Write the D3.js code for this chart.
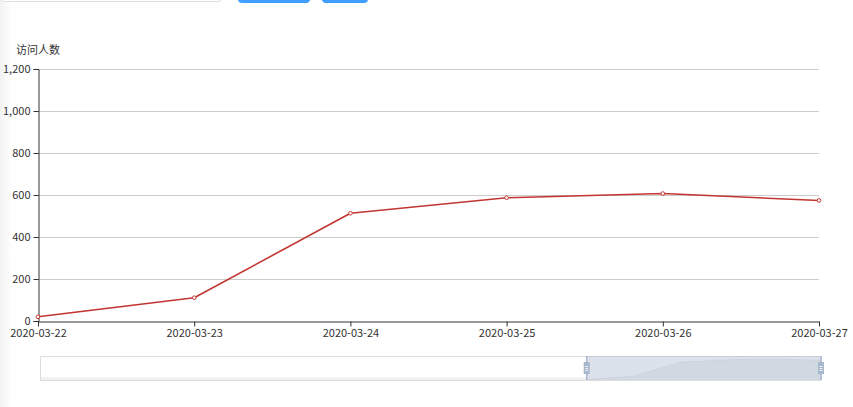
<!DOCTYPE html>
<html><head><meta charset="utf-8">
<script src="https://cdn.jsdelivr.net/npm/d3@7/dist/d3.min.js"></script>
<style>
html,body{margin:0;padding:0;background:#fff;overflow:hidden;}
#wrap{position:relative;width:853px;height:407px;}
.shadowL{position:absolute;left:0;top:0;width:12px;height:407px;background:linear-gradient(to right,rgba(0,0,0,0.05),rgba(0,0,0,0));}
.inp{position:absolute;left:0;top:-30px;width:222px;height:32px;border:1px solid #dcdfe6;border-radius:4px;box-sizing:border-box;background:#fff;}
.btn{position:absolute;top:-30px;height:33px;background:#409eff;border-radius:4px;}
svg{position:absolute;left:0;top:0;}
</style></head>
<body><div id="wrap">
<div class="shadowL"></div>
<div class="inp"></div>
<div class="btn" style="left:238px;width:72px"></div>
<div class="btn" style="left:322px;width:46px"></div>
<svg id="chart" width="853" height="407"></svg>
</div>
<script>
const categories = ["2020-03-22","2020-03-23","2020-03-24","2020-03-25","2020-03-26","2020-03-27"];
const visitors = [20, 111, 513, 587, 607, 574];
const yTicks = [0, 200, 400, 600, 800, 1000, 1200];
const yName = "访问人数";
const zoomStart = 0.70, zoomEnd = 1.0;

const font = "'Noto Sans CJK SC','Microsoft YaHei',sans-serif";
const svg = d3.select("#chart");
const L = 38, R = 819, T = 69, B = 321;

const x = d3.scalePoint().domain(categories).range([L, R]);
const y = d3.scaleLinear().domain([0, 1200]).range([B, T]);

// split lines
svg.append("g").selectAll("line").data(yTicks.filter(d => d > 0)).join("line")
  .attr("x1", L).attr("x2", R).attr("y1", d => y(d)+0.5).attr("y2", d => y(d)+0.5)
  .attr("stroke", "#ccc").attr("stroke-width", 1);

// y axis
const yAxis = svg.append("g").attr("transform", `translate(${L+0.5},0)`)
  .call(d3.axisLeft(y).tickValues(yTicks).tickSize(5).tickPadding(3).tickFormat(d3.format(",")));
yAxis.select(".domain").attr("stroke", "#333");
yAxis.selectAll(".tick line").attr("stroke", "#333");
yAxis.selectAll("text").attr("fill", "#333").style("font-family", font).style("font-size", "11px");

// x axis
const xAxis = svg.append("g").attr("transform", `translate(0,${B+0.5})`)
  .call(d3.axisBottom(x).tickSize(5).tickPadding(3).tickSizeOuter(0));
xAxis.select(".domain").attr("stroke", "#333");
xAxis.selectAll(".tick line").attr("stroke", "#333");
xAxis.selectAll("text").attr("fill", "#333").style("font-family", font).style("font-size", "11px");

// y axis name
svg.append("text").attr("x", L).attr("y", 54).attr("text-anchor", "middle")
  .attr("fill", "#333").style("font-family", font).style("font-size", "11px").text(yName);

// line
const line = d3.line().x((d, i) => x(categories[i])).y(d => y(d));
svg.append("path").datum(visitors).attr("d", line)
  .attr("fill", "none").attr("stroke", "#c23531").attr("stroke-width", 1.6).attr("stroke-linejoin", "bevel");
svg.append("g").selectAll("circle").data(visitors).join("circle")
  .attr("cx", (d, i) => x(categories[i])).attr("cy", d => y(d)).attr("r", 1.8)
  .attr("fill", "#fff").attr("stroke", "#c23531").attr("stroke-width", 1);

// data zoom slider
const sL = 40, sR = 821, sT = 356, sB = 380;
const sx = d3.scaleLinear().domain([0, 1]).range([sL, sR]);
const g = svg.append("g");
g.append("rect").attr("x", sL+0.5).attr("y", sT+0.5).attr("width", sR-sL).attr("height", sB-sT)
  .attr("fill", "#fff").attr("stroke", "#ddd");
const selL = sx(zoomStart), selR = sx(zoomEnd);
const vy = d3.scaleLinear().domain([0, d3.max(visitors)]).range([sB, sT + 3]);
const vx = d3.scalePoint().domain(categories).range([selL, selR]);
// shadow before the window (low values)
g.append("rect").attr("x", sL+1).attr("y", vy(visitors[0]) - 2).attr("width", selL - sL - 1)
  .attr("height", sB - vy(visitors[0]) + 2).attr("fill", "rgba(47,69,84,0.08)");
// shadow in window
const area = d3.area().x((d, i) => vx(categories[i])).y0(sB).y1(d => vy(d));
g.append("path").datum(visitors).attr("d", area).attr("fill", "rgba(47,69,84,0.09)");
g.append("path").datum(visitors).attr("d", d3.line().x((d, i) => vx(categories[i])).y(d => vy(d)))
  .attr("fill", "none").attr("stroke", "rgba(47,69,84,0.15)").attr("stroke-width", 0.5);
// filler
g.append("rect").attr("x", selL).attr("y", sT).attr("width", selR - selL).attr("height", sB - sT)
  .attr("fill", "rgba(167,183,204,0.4)");
// handles
[selL, selR].forEach(hx => {
  g.append("line").attr("x1", hx).attr("x2", hx).attr("y1", sT).attr("y2", sB)
    .attr("stroke", "#a7b7cc").attr("stroke-width", 1.5);
  g.append("rect").attr("x", hx - 3).attr("y", sT + 6).attr("width", 6).attr("height", 12)
    .attr("fill", "#a7b7cc");
  [10, 12, 14].forEach(o => g.append("line").attr("x1", hx - 1.5).attr("x2", hx + 1.5)
    .attr("y1", sT + o + 0.5).attr("y2", sT + o + 0.5).attr("stroke", "#fff").attr("stroke-width", 0.8));
});
</script>
</body></html>
